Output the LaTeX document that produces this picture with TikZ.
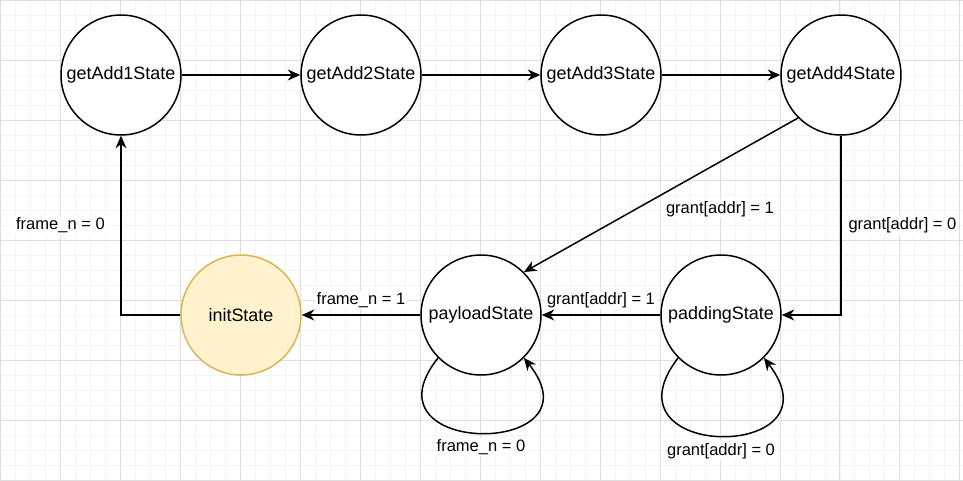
\documentclass[tikz,border=0pt]{standalone}
\usepackage{fontspec}
\setmainfont{Liberation Sans}
\usetikzlibrary{arrows.meta,positioning}

\definecolor{initfill}{HTML}{FFF2CC}
\definecolor{initdraw}{HTML}{D6B656}
\definecolor{gridmajor}{HTML}{DEDEDE}
\definecolor{gridminor}{HTML}{F3F3F3}

\tikzset{
  state/.style={circle, draw=black, line width=0.85pt, fill=white,
    minimum size=2.4cm, inner sep=0pt, font=\fontsize{10.2}{12}\selectfont},
  startstate/.style={state, draw=initdraw, fill=initfill},
  trans/.style={-{Stealth[length=0.25cm,width=0.22cm,inset=0.08cm]}, line width=0.85pt},
  lbl/.style={fill=white, inner sep=1pt, font=\fontsize{9.4}{11}\selectfont},
}

\begin{document}
\begin{tikzpicture}[x=0.02cm, y=-0.02cm]
% --- page and grid
\fill[white] (0,0) rectangle (963,480);
\useasboundingbox (0,0) rectangle (963,480);
\draw[gridminor, line width=0.4pt, step=0.3cm] (0,0) grid (963,480);
\draw[gridmajor, line width=0.4pt, step=1.2cm] (0,0) grid (963,480);

% ---- the states, top row
\node[state] (add1) at (121,75) {getAdd1State};
\node[state] (add2) at (361,75) {getAdd2State};
\node[state] (add3) at (601,75) {getAdd3State};
\node[state] (add4) at (841,75) {getAdd4State};

% ---- the states, bottom row
\node[startstate] (init) at (241,315) {initState};
\node[state] (payload) at (481,315) {payloadState};
\node[state] (padding) at (721,315) {paddingState};

% --- address bytes
\draw[trans] (add1) -- (add2);
\draw[trans] (add2) -- (add3);
\draw[trans] (add3) -- (add4);

% --- grant or padding
\draw[trans] (add4.south west) -- node[lbl, pos=0.285, yshift=-0.94cm] {grant[addr] = 1} (payload.north east);
\draw[trans] (add4.south) |- node[lbl, pos=0.25, right=0.1cm] {grant[addr] = 0} (padding.east);
\draw[trans] (padding) -- node[lbl, midway, yshift=0.3cm] {grant[addr] = 1} (payload);

% --- back to the start
\draw[trans] (payload) -- node[lbl, midway, yshift=0.3cm] {frame\_n = 1} (init);
\draw[trans] (init.west) -| node[lbl, pos=0.75, left=0.275cm] {frame\_n = 0} (add1.south);

% ---- self loops
\draw[trans] (payload.south west) .. controls +(-80,100) and +(80,100) .. node[lbl, pos=0.5, yshift=-0.28cm] {frame\_n = 0} (payload.south east);
\draw[trans] (padding.south west) .. controls +(-80,104) and +(80,104) .. node[lbl, pos=0.5, yshift=-0.3cm] {grant[addr] = 0} (padding.south east);
\end{tikzpicture}
\end{document}
